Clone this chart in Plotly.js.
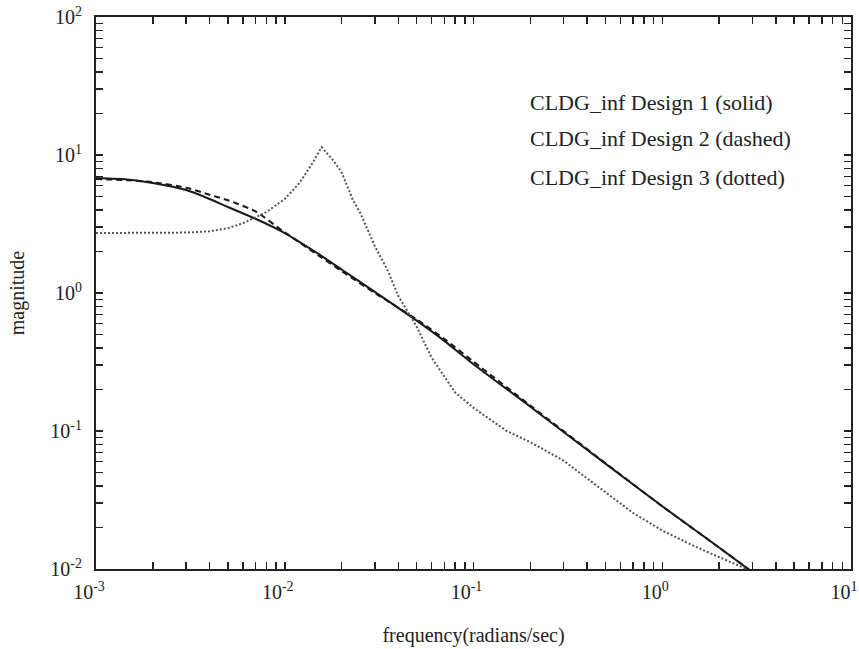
<!DOCTYPE html>
<html>
<head>
<meta charset="utf-8">
<script src="https://cdn.plot.ly/plotly-3.0.1.min.js"></script>
<style>html,body{margin:0;padding:0;background:#fff;}#chart{width:859px;height:649px;}</style>
</head>
<body>
<div id="chart"></div>
<script>
// ---- data ----
const freqSolid = [0.001, 0.0015, 0.002, 0.003, 0.004, 0.005, 0.007, 0.01, 0.015, 0.02, 0.03, 0.05, 0.07, 0.1, 0.2, 0.5, 1, 2, 3];
const magSolid  = [6.8, 6.63, 6.27, 5.57, 4.8, 4.2, 3.45, 2.72, 1.93, 1.48, 1.02, 0.63, 0.45, 0.305, 0.15, 0.058, 0.0285, 0.0143, 0.0095];

const freqDashed = [0.001, 0.0015, 0.002, 0.003, 0.004, 0.005, 0.007, 0.01, 0.015, 0.02, 0.03, 0.05, 0.07, 0.1, 0.2, 0.5, 1, 2, 3];
const magDashed  = [6.7, 6.55, 6.35, 5.8, 5.15, 4.7, 3.9, 2.75, 1.88, 1.44, 1.0, 0.645, 0.465, 0.318, 0.153, 0.0585, 0.0285, 0.0143, 0.0095];

const freqDotted = [0.001, 0.002, 0.003, 0.004, 0.005, 0.006, 0.007, 0.008, 0.01, 0.012, 0.014, 0.0157, 0.018, 0.02, 0.023, 0.025, 0.03, 0.035, 0.04, 0.05, 0.06, 0.07, 0.08, 0.1, 0.15, 0.2, 0.3, 0.5, 0.7, 1, 1.5, 2, 2.8];
const magDotted  = [2.72, 2.72, 2.74, 2.8, 2.95, 3.2, 3.55, 3.86, 4.8, 6.3, 8.7, 11.4, 9.2, 7.5, 4.7, 3.86, 2.19, 1.47, 0.95, 0.57, 0.34, 0.246, 0.19, 0.147, 0.1, 0.083, 0.061, 0.036, 0.0255, 0.019, 0.0145, 0.0122, 0.01];

const xDecades = [-3, -2, -1, 0, 1];
const yDecades = [-2, -1, 0, 1, 2];
const xTickLabels = ['10<sup>-3</sup>', '10<sup>-2</sup>', '10<sup>-1</sup>', '10<sup>0</sup>', '10<sup>1</sup>'];
const yTickLabels = ['10<sup>-2</sup>', '10<sup>-1</sup>', '10<sup>0</sup>', '10<sup>1</sup>', '10<sup>2</sup>'];
const seriesNames = ['CLDG_inf Design 1 (solid)', 'CLDG_inf Design 2 (dashed)', 'CLDG_inf Design 3 (dotted)'];
const xTitle = 'frequency(radians/sec)';
const yTitle = 'magnitude';

// ---- build log ticks: decades (labelled) and 2..9 minor ticks ----
function majorVals(decades) { return decades.map(d => Math.pow(10, d)); }
function minorVals(decades) {
  const v = [];
  decades.slice(0, -1).forEach(d => { for (let m = 2; m <= 9; m++) v.push(m * Math.pow(10, d)); });
  return v;
}

const FONT = 'Liberation Serif, Times New Roman, serif';

const traces = [
  {x: freqSolid, y: magSolid, mode: 'lines', name: seriesNames[0],
   line: {color: '#1a1a1a', width: 2, shape: 'spline', smoothing: 0.6}},
  {x: freqDashed, y: magDashed, mode: 'lines', name: seriesNames[1],
   line: {color: '#1a1a1a', width: 2, dash: '6px,4px', shape: 'spline', smoothing: 0.6}},
  {x: freqDotted, y: magDotted, mode: 'lines', name: seriesNames[2],
   line: {color: '#555555', width: 2, dash: '2px,2px'}}
];

const annY = [0.846, 0.779, 0.710];
const annotations = seriesNames.map((t, i) => ({
  text: t, xref: 'paper', yref: 'paper', x: 0.572, y: annY[i],
  xanchor: 'left', yanchor: 'middle', showarrow: false,
  font: {family: FONT, size: 22, color: '#222'}
}));

function axisCommon(decades) {
  return {
    type: 'log', showgrid: false, zeroline: false,
    showline: true, linecolor: '#222', linewidth: 2, mirror: 'ticks',
    ticks: 'inside', ticklen: 7, tickwidth: 1.5, tickcolor: '#222',
    tickmode: 'array', tickvals: majorVals(decades),
    ticklabeloverflow: 'allow',
    minor: {tickmode: 'array', tickvals: minorVals(decades), ticks: 'inside',
            ticklen: 7, tickwidth: 1.5, tickcolor: '#222', showgrid: false},
    tickfont: {family: FONT, size: 20, color: '#222'}
  };
}

const layout = {
  width: 859, height: 649,
  margin: {l: 96, r: 8, t: 17, b: 80},
  paper_bgcolor: '#fff', plot_bgcolor: '#fff',
  showlegend: false,
  font: {family: FONT, color: '#222'},
  xaxis: Object.assign(axisCommon(xDecades), {
    range: [-3, 1], ticktext: xTickLabels, ticklabelstandoff: 4, ticklabelshift: -7,
    title: {text: xTitle, font: {family: FONT, size: 20, color: '#222'}, standoff: 26}
  }),
  yaxis: Object.assign(axisCommon(yDecades), {
    range: [-2, 2], ticktext: yTickLabels, ticklabelstandoff: 8,
    title: {text: yTitle, font: {family: FONT, size: 20, color: '#222'}, standoff: 20}
  }),
  annotations: annotations
};

Plotly.newPlot('chart', traces, layout, {staticPlot: true, displayModeBar: false});
</script>
</body>
</html>
